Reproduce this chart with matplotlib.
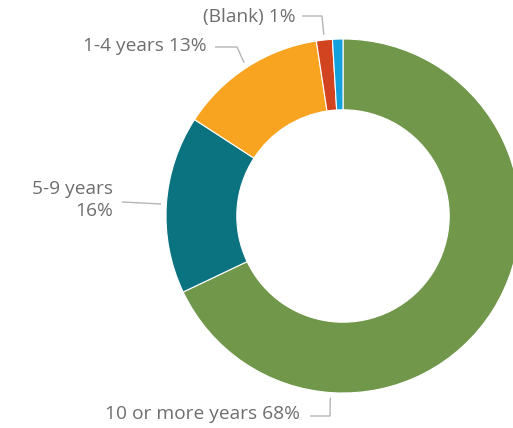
import matplotlib.pyplot as plt
import numpy as np

# Share of respondents by length of service
categories = ["10 or more years", "5-9 years", "1-4 years", "(Blank)", "Less than 1 year"]
shares = [67.8, 16.2, 13.4, 1.45, 0.95]
colors = ["#70974A", "#0B727F", "#F8A420", "#D2431F", "#14A0DC"]

W, H = 513, 428
CX, CY, R = 343, 216, 177  # donut centre and radius in pixels


def px(x, y):
    # pixel position -> data units (radius 1 = R px)
    return (x - CX) / R, (CY - y) / R


fig = plt.figure(figsize=(W / 100, H / 100), dpi=100)
ax = fig.add_axes([0, 0, 1, 1])

wedges, _ = ax.pie(shares, colors=colors, startangle=90, counterclock=False,
                   radius=1, wedgeprops=dict(width=0.4, edgecolor="white", linewidth=0.8))

# pie() resets the limits, so set them afterwards
ax.set_xlim(px(0, 0)[0], px(W, 0)[0])
ax.set_ylim(px(0, H)[1], px(0, 0)[1])
ax.set_aspect("equal")
ax.axis("off")

# label text, text anchor (px), elbow (px), angle on the ring where the leader ends
labels = [
    (f"{categories[0]} {shares[0]:.0f}%", (300, 414), [(310, 416), (330, 416)], -94),
    (f"{categories[1]}\n{shares[1]:.0f}%", (113, 200), [(122, 202)], None),
    (f"{categories[2]} {shares[2]:.0f}%", (207, 46), [(215, 47), (237, 47)], None),
    (f"{categories[3]} {shares[3]:.0f}%", (296, 17), [(302, 16), (322, 16)], None),
]

text_color = "#6E6E6E"
line_color = "#B5B5B5"
for (txt, (tx, ty), elbow, ang), w in zip(labels, wedges):
    if ang is None:
        ang = (w.theta1 + w.theta2) / 2
    end = (1.03 * np.cos(np.radians(ang)), 1.03 * np.sin(np.radians(ang)))
    pts = [px(*p) for p in elbow] + [end]
    xs, ys = zip(*pts)
    ax.plot(xs, ys, color=line_color, lw=1, solid_capstyle="butt")
    x, y = px(tx, ty)
    ax.text(x, y, txt, ha="right", va="center", fontsize=13.8, color=text_color,
            family="Open Sans", linespacing=1.35, multialignment="right")

fig.savefig("out.png", dpi=100, facecolor="white")
